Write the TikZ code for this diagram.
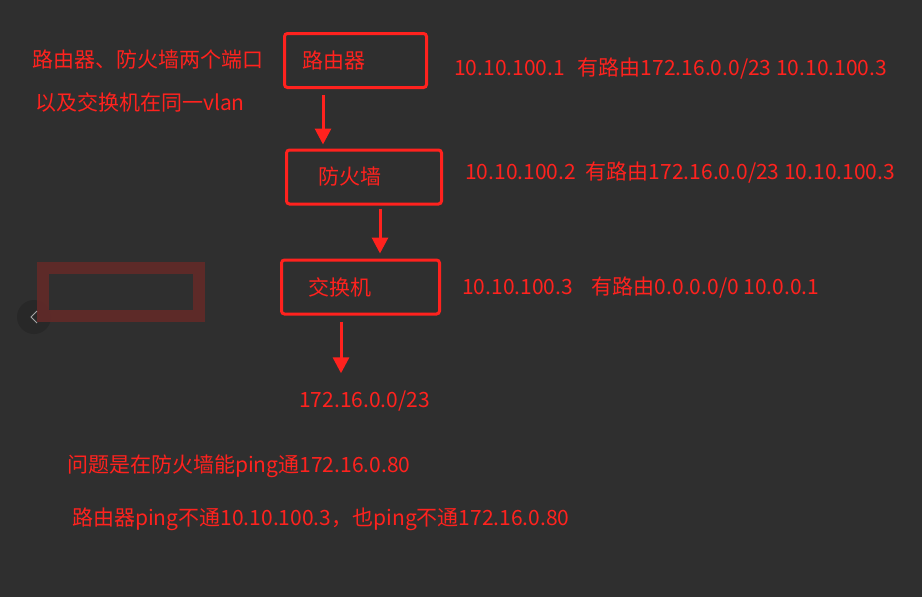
\documentclass[tikz,border=0pt]{standalone}
\usepackage{fontspec}
\setmainfont{Noto Sans CJK SC}
\usetikzlibrary{arrows.meta, positioning}
\definecolor{bgdark}{RGB}{47,47,47}
\definecolor{netred}{RGB}{255,34,30}
\definecolor{blurred}{RGB}{98,42,40}
\definecolor{navgray}{RGB}{40,40,40}
\tikzset{
  device/.style={
    rectangle, rounded corners=3pt, draw=netred, line width=3pt,
    minimum height=54pt, align=left, inner ysep=0pt,
    text=netred, font=\fontsize{21}{25}\selectfont
  },
  note/.style={
    anchor=west, inner sep=0pt, text height=16pt, text depth=5pt,
    text=netred, font=\fontsize{21}{25}\selectfont
  },
  arrowred/.style={-{Triangle[width=16pt,length=16pt]}, line width=3pt, draw=netred}
}

\begin{document}
\begin{tikzpicture}[x=1pt, y=-1pt]
  % ── Background ────────────────────────────────────────────────────
  \fill[bgdark] (0,0) rectangle (922,597);
  \useasboundingbox (0,0) rectangle (922,597);

  % ── Left-hand leftovers of the screenshot ─────────────────────────
  \fill[navgray] (34,317) circle (17);
  \draw[blurred, line width=12pt, opacity=0.9] (43,268) rectangle (199,316);
  \draw[gray!70, line width=1pt] (37,311) -- (31,317) -- (37,323);

  % ── Devices ───────────────────────────────────────────────────────
  \node[device, text width=107pt, inner xsep=17.5pt] (router)
    at (355.5, 60.5) {路由器};
  \node[device, text width=92pt, inner xsep=31.5pt] (fw)
    at (364, 177) {防火墙};
  \node[device, text width=105pt, inner xsep=26.5pt] (sw)
    at (360.5, 287) {交换机};

  % ── Notes ─────────────────────────────────────────────────────────
  \node[note] (portnote) at (32, 62)  {路由器、防火墙两个端口};
  \node[note] (vlannote) at (35, 105) {以及交换机在同一vlan};

  \node[note] (routerip) at (454, 70)
    {10.10.100.1\hspace{13pt}有路由172.16.0.0/23 10.10.100.3};
  \node[note] (fwip) at (465, 174)
    {10.10.100.2\hspace{10pt}有路由172.16.0.0/23 10.10.100.3};
  \node[note] (swip) at (462, 289)
    {10.10.100.3\hspace{19pt}有路由0.0.0.0/0 10.0.0.1};

  \node[note] (net) at (299, 402) {172.16.0.0/23};

  \node[note] (q1) at (67, 467) {问题是在防火墙能ping通172.16.0.80};
  \node[note] (q2) at (72, 520)
    {路由器ping不通10.10.100.3，也ping不通172.16.0.80};

  % ── Connections ───────────────────────────────────────────────────
  \draw[arrowred, shorten <=6pt, shorten >=4pt]
    ([xshift=40pt]router.south west) -- ([xshift=38pt]fw.north west);
  \draw[arrowred, shorten <=3pt, shorten >=5pt]
    ([xshift=95pt]fw.south west) -- ([xshift=100pt]sw.north west);
  \draw[arrowred, shorten <=6pt, shorten >=18pt]
    ([xshift=61pt]sw.south west) -- ([xshift=42pt]net.north west);
\end{tikzpicture}
\end{document}
